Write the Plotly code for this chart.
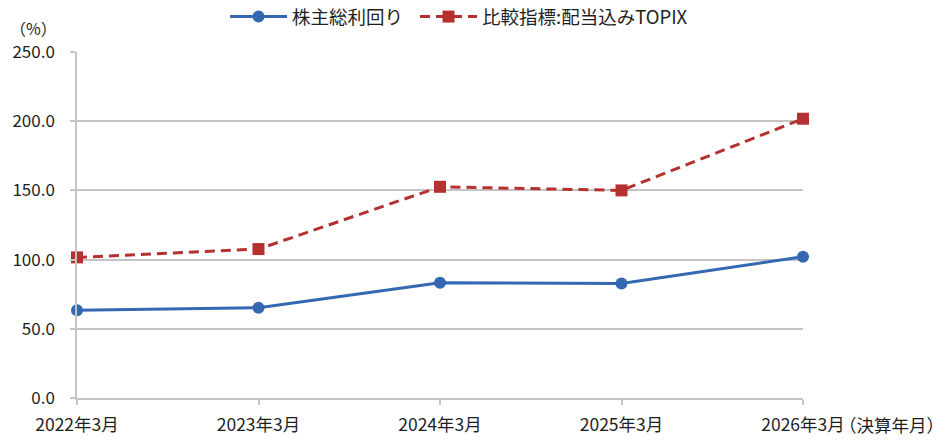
import plotly.graph_objects as go

categories = ["2022年3月", "2023年3月", "2024年3月", "2025年3月", "2026年3月"]
tsr_values = [63.4, 65.2, 83.3, 82.8, 102.0]
topix_values = [101.6, 107.6, 152.6, 150.0, 201.8]
series_names = ["株主総利回り", "比較指標:配当込みTOPIX"]
y_ticks = [0, 50, 100, 150, 200, 250]
y_unit = "（%）"
x_unit = "（決算年月）"

FONT = "Noto Sans CJK JP"
TXT = "#1e1e1e"
GRID = "#c4c4c4"
BLUE = "#3568b2"
RED = "#b5312f"

fig = go.Figure()
fig.add_trace(go.Scatter(
    x=categories, y=tsr_values, name=series_names[0], mode="lines+markers",
    line=dict(color=BLUE, width=3),
    marker=dict(symbol="circle", size=12, color=BLUE),
    legend="legend", cliponaxis=False,
))
fig.add_trace(go.Scatter(
    x=categories, y=topix_values, name=series_names[1], mode="lines+markers",
    line=dict(color=RED, width=3, dash="10px,6px"),
    marker=dict(symbol="square", size=12, color=RED),
    legend="legend2", cliponaxis=False,
))

legend_common = dict(orientation="h", xanchor="left", y=1.101, yanchor="middle",
                     font=dict(size=18.5, color=TXT), itemwidth=57,
                     bgcolor="rgba(0,0,0,0)")

fig.update_layout(
    width=952, height=441,
    margin=dict(l=77, r=149, t=52, b=43, autoexpand=False),
    paper_bgcolor="white", plot_bgcolor="white",
    font=dict(family=FONT, size=17, color=TXT),
    showlegend=True,
    legend=dict(x=0.2039, **legend_common),
    legend2=dict(x=0.4656, **legend_common),
    xaxis=dict(
        type="category", range=[0, len(categories) - 1],
        showgrid=False, showline=True, linecolor=GRID, linewidth=1.5,
        ticks="outside", ticklen=5, tickcolor=GRID, tickwidth=1.5,
        tickfont=dict(size=17.5, color=TXT), ticklabelstandoff=5,
    ),
    yaxis=dict(
        range=[0, 250], tickvals=y_ticks, tickformat=".1f",
        showgrid=True, gridcolor=GRID, gridwidth=1.5,
        showline=True, linecolor=GRID, linewidth=1.5,
        ticks="outside", ticklen=5, tickcolor=GRID, tickwidth=1.5,
        tickfont=dict(size=17, color=TXT), ticklabelstandoff=12,
        zeroline=False,
    ),
)

fig.add_annotation(
    text=y_unit, xref="paper", yref="paper", x=-0.0606, y=1.069,
    xanchor="center", yanchor="middle", showarrow=False,
    font=dict(size=16, color=TXT),
)
fig.add_annotation(
    text=x_unit, xref="paper", yref="paper", x=1.047, y=-0.077,
    xanchor="left", yanchor="middle", showarrow=False,
    font=dict(size=17.5, color=TXT),
)

# remove the browser's default 8px body margin so the figure fills the window exactly
fig.write_html("out.html", config={"displayModeBar": False},
               post_script="document.body.style.margin='0';")
